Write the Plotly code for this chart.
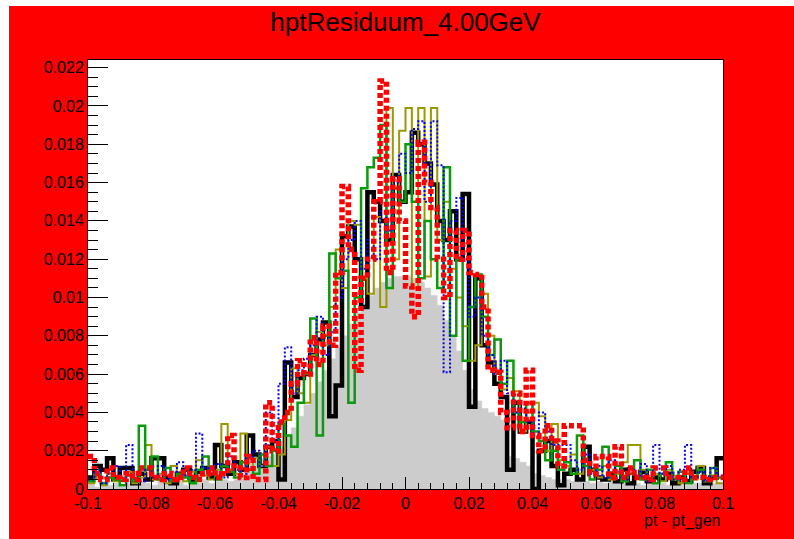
import numpy as np
import plotly.graph_objects as go

# Histogram binning: 100 bins on [-0.1, 0.1]
N_BINS = 100
X_MIN, X_MAX = -0.1, 0.1

# Bin contents in units of 1e-4 (normalised entries per bin)
UNIT = 1e-4

ref_gray = [
    3, 1, 4, 2, 3, 1, 3, 2, 4, 3,
    2, 4, 3, 3, 4, 2, 4, 3, 5, 3,
    4, 5, 4, 5, 6, 14, 15, 16, 17, 18,
    22, 28, 32, 38, 44, 50, 56, 62, 68, 74,
    80, 86, 92, 97, 101, 105, 108, 110, 111, 111,
    111, 110, 108, 105, 101, 96, 88, 80, 72, 62,
    52, 46, 42, 40, 38, 36, 17, 16, 14, 12,
    8, 7, 6, 5, 5, 5, 4, 5, 4, 3,
    4, 3, 5, 4, 3, 4, 3, 2, 4, 3,
    3, 2, 3, 4, 2, 3, 3, 2, 3, 3,
]

res_black = [
    6, 12, 10, 16, 5, 11, 11, 3, 8, 5,
    16, 16, 6, 3, 8, 10, 5, 9, 11, 6,
    23, 12, 8, 14, 10, 28, 18, 12, 22, 25,
    5, 66, 48, 58, 60, 70, 78, 87, 38, 54,
    132, 137, 120, 95, 155, 150, 140, 130, 164, 150,
    155, 186, 180, 170, 159, 140, 130, 145, 120, 154,
    43, 110, 75, 66, 55, 48, 10, 45, 30, 35,
    0, 20, 25, 12, 2, 8, 10, 5, 22, 10,
    6, 5, 8, 4, 10, 3, 6, 9, 4, 6,
    5, 8, 3, 6, 4, 9, 11, 3, 6, 16,
]

res_olive = [
    3, 6, 2, 8, 4, 5, 9, 3, 6, 23,
    5, 8, 3, 12, 6, 4, 9, 15, 7, 5,
    10, 34, 10, 8, 29, 10, 16, 12, 22, 12,
    18, 36, 63, 50, 45, 70, 82, 75, 95, 125,
    105, 140, 138, 110, 102, 142, 95, 199, 120, 187,
    199, 105, 199, 111, 199, 130, 150, 115, 100, 85,
    67, 75, 102, 80, 60, 52, 58, 51, 30, 40,
    45, 38, 20, 34, 15, 12, 18, 8, 14, 10,
    6, 12, 5, 8, 14, 23, 23, 10, 5, 8,
    4, 10, 6, 3, 8, 5, 12, 4, 7, 3,
]

res_green = [
    4, 8, 3, 6, 5, 2, 7, 4, 33, 10,
    17, 5, 11, 4, 8, 6, 3, 10, 17, 8,
    5, 12, 9, 6, 14, 10, 8, 18, 12, 20,
    34, 28, 22, 45, 60, 89, 28, 80, 123, 110,
    114, 45, 100, 157, 168, 173, 190, 105, 157, 150,
    180, 150, 110, 140, 120, 105, 168, 80, 120, 67,
    95, 112, 90, 70, 78, 55, 67, 40, 35, 45,
    30, 25, 15, 20, 10, 14, 8, 28, 12, 5,
    10, 22, 6, 12, 4, 8, 15, 5, 10, 3,
    8, 14, 5, 9, 3, 6, 10, 4, 11, 6,
]

res_blue = [
    5, 10, 3, 8, 12, 6, 23, 9, 4, 10,
    6, 12, 5, 9, 14, 7, 10, 29, 11, 8,
    13, 6, 17, 10, 8, 16, 20, 12, 40, 25,
    55, 74, 50, 62, 68, 75, 90, 70, 82, 100,
    120, 130, 140, 115, 130, 120, 145, 135, 160, 175,
    165, 188, 192, 150, 192, 169, 61, 140, 152, 120,
    90, 100, 80, 70, 60, 67, 50, 40, 42, 35,
    28, 40, 30, 23, 23, 23, 15, 10, 18, 8,
    12, 6, 15, 9, 5, 11, 7, 13, 4, 23,
    8, 12, 5, 10, 23, 6, 9, 4, 11, 7,
]

res_red = [
    17, 8, 5, 11, 6, 5, 8, 5, 11, 11,
    6, 5, 8, 5, 6, 11, 6, 5, 8, 11,
    6, 8, 28, 11, 6, 17, 5, 5, 45, 20,
    35, 40, 55, 67, 60, 79, 65, 85, 75, 113,
    158, 125, 62, 110, 120, 150, 213, 113, 162, 140,
    106, 90, 181, 160, 147, 120, 100, 135, 120, 135,
    113, 112, 95, 62, 61, 40, 32, 50, 30, 62,
    28, 20, 33, 25, 12, 33, 33, 33, 15, 8,
    17, 17, 6, 22, 6, 11, 6, 6, 5, 11,
    11, 6, 6, 5, 11, 6, 6, 5, 6, 6,
]

x_tick_values = [-0.1, -0.08, -0.06, -0.04, -0.02, 0.0, 0.02, 0.04, 0.06, 0.08, 0.1]
x_tick_labels = ["-0.1", "-0.08", "-0.06", "-0.04", "-0.02", "0",
                 "0.02", "0.04", "0.06", "0.08", "0.1"]
y_tick_values = [0.0, 0.002, 0.004, 0.006, 0.008, 0.01, 0.012,
                 0.014, 0.016, 0.018, 0.02, 0.022]
y_tick_labels = ["0", "0.002", "0.004", "0.006", "0.008", "0.01", "0.012",
                 "0.014", "0.016", "0.018", "0.02", "0.022"]

TITLE = "hptResiduum_4.00GeV"
X_TITLE = "pt - pt_gen"
Y_MAX = 0.0224

edges = np.linspace(X_MIN, X_MAX, N_BINS + 1)


def step_y(contents):
    vals = [v * UNIT for v in contents]
    return vals + [vals[-1]]


W, H = 794, 539
M_L, M_R, M_T, M_B = 88, 71, 60, 50
FONT = "Liberation Sans, Arial, sans-serif"

fig = go.Figure()

# filled reference histogram
fig.add_trace(go.Scatter(
    x=edges, y=step_y(ref_gray), mode="lines", line_shape="hv",
    line=dict(color="#cccccc", width=0.5), fill="tozeroy",
    fillcolor="#cccccc", hoverinfo="skip", showlegend=False,
))

styles = [
    (res_black, dict(color="#000000", width=4.5)),
    (res_olive, dict(color="#9c9800", width=2)),
    (res_green, dict(color="#0a9a0a", width=2.5)),
    (res_blue, dict(color="#0000ff", width=2, dash="2px,2px")),
    (res_red, dict(color="#ff0000", width=5.5, dash="5px,3px")),
]
for contents, line in styles:
    fig.add_trace(go.Scatter(
        x=edges, y=step_y(contents), mode="lines", line_shape="hv",
        line=line, hoverinfo="skip", showlegend=False,
    ))

plot_w = W - M_L - M_R
plot_h = H - M_T - M_B


def px_to_paper_x(px):
    return (px - M_L) / plot_w


def px_to_paper_y(py):
    return (H - M_B - py) / plot_h


# white page strips along the left and top edges of the canvas
shapes = [
    dict(type="rect", xref="paper", yref="paper",
         x0=px_to_paper_x(-5), x1=px_to_paper_x(9),
         y0=px_to_paper_y(H + 5), y1=px_to_paper_y(-5),
         fillcolor="white", line=dict(width=0), layer="below"),
    dict(type="rect", xref="paper", yref="paper",
         x0=px_to_paper_x(-5), x1=px_to_paper_x(W + 5),
         y0=px_to_paper_y(6), y1=px_to_paper_y(-5),
         fillcolor="white", line=dict(width=0), layer="below"),
]

fig.update_layout(
    width=W, height=H,
    margin=dict(l=M_L, r=M_R, t=M_T, b=M_B, pad=0),
    paper_bgcolor="#ff0000",
    plot_bgcolor="white",
    font=dict(family=FONT, color="black", size=16),
    title=dict(text=TITLE, x=0.5, xref="paper", xanchor="center",
               y=1 - 22 / H, yref="container", yanchor="middle",
               font=dict(family=FONT, size=26, color="black")),
    shapes=shapes,
    annotations=[dict(
        text=X_TITLE, xref="paper", yref="paper",
        x=1.0, y=px_to_paper_y(521), xanchor="right", yanchor="middle",
        showarrow=False, font=dict(family=FONT, size=16, color="black"),
    )],
)

fig.update_xaxes(
    range=[X_MIN, X_MAX], showgrid=False, zeroline=False,
    showline=True, linecolor="black", linewidth=1, mirror=True,
    ticks="inside", ticklen=12, tickwidth=1, tickcolor="black",
    tickvals=x_tick_values, ticktext=x_tick_labels,
    minor=dict(ticks="inside", ticklen=6, dtick=0.004, tick0=-0.1,
               tickcolor="black", showgrid=False),
    tickfont=dict(family=FONT, size=16, color="black"),
)
fig.update_yaxes(
    range=[0, Y_MAX], showgrid=False, zeroline=False,
    showline=True, linecolor="black", linewidth=1, mirror=True,
    ticks="inside", ticklen=20, tickwidth=1, tickcolor="black",
    tickvals=y_tick_values, ticktext=y_tick_labels,
    minor=dict(ticks="inside", ticklen=10, dtick=0.0005, tick0=0,
               tickcolor="black", showgrid=False),
    tickfont=dict(family=FONT, size=16, color="black"),
)

fig.write_html("out.html")
